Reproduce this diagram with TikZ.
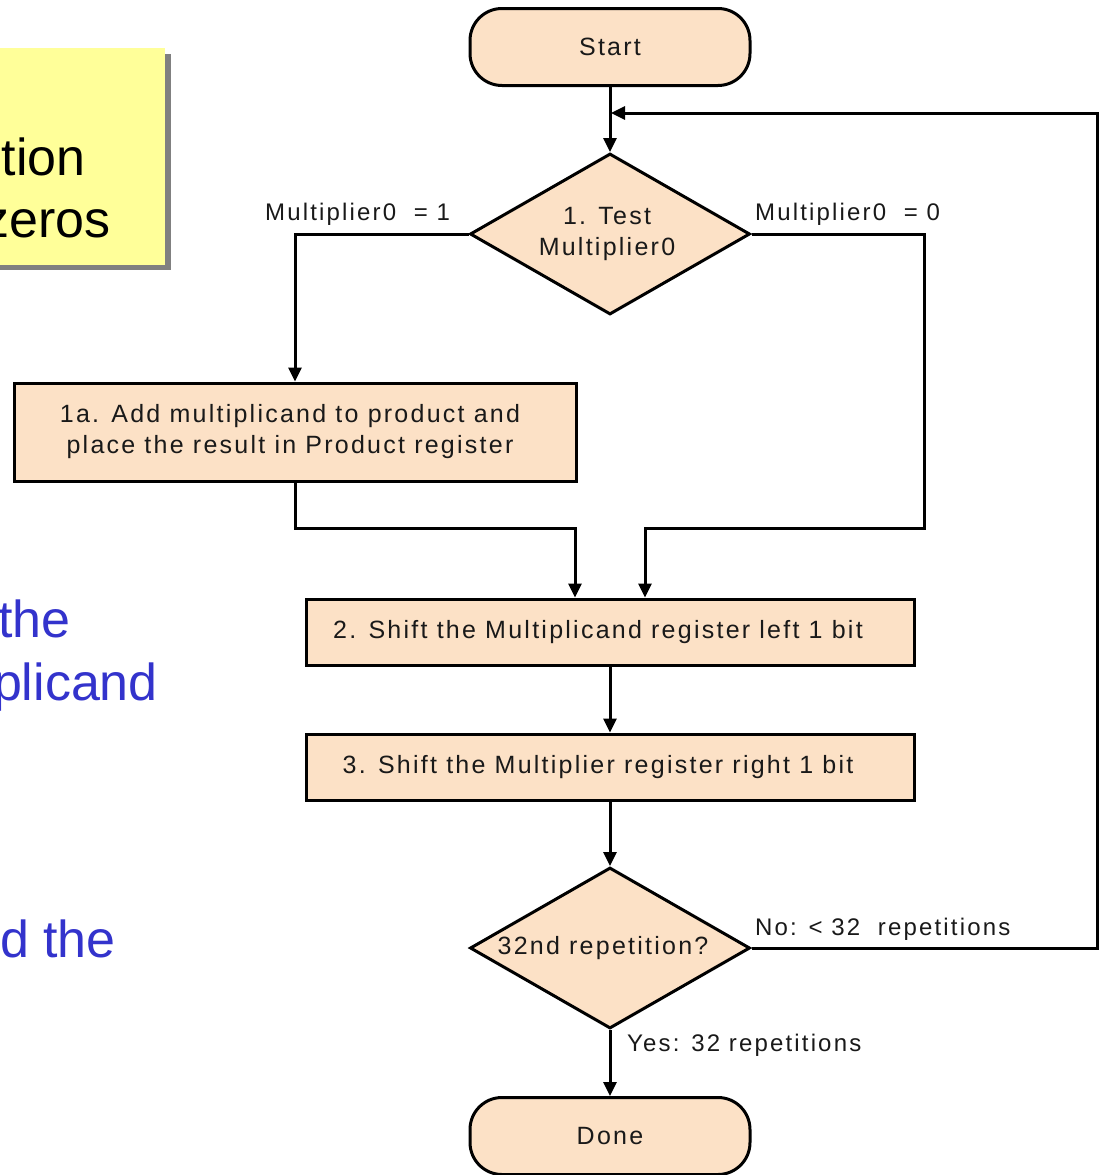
\documentclass[tikz,border=0pt]{standalone}
\usepackage{fontspec}
\setmainfont{Liberation Sans}
\newfontfamily\flowfont[LetterSpace=9]{Liberation Sans}
\newfontfamily\labelfont[LetterSpace=9]{Liberation Sans}
\usetikzlibrary{shapes.geometric,arrows.meta,calc}
\definecolor{peach}{RGB}{252,225,198}
\definecolor{notey}{RGB}{255,255,153}
\definecolor{shadowg}{RGB}{128,128,128}
\definecolor{slideblue}{RGB}{51,51,204}
\newcommand{\centrebox}[2][0pt]{\makebox[0pt]{\hspace*{#1}\begin{tabular}{@{}c@{}}#2\end{tabular}}}

\begin{document}
\begin{tikzpicture}[x=1pt,y=-1pt,
  line/.style={line width=3pt, draw=black},
  arrow/.style={line, -{Triangle[length=14pt,width=13pt]}},
  flowtext/.style={font=\flowfont\fontsize{25}{31}\selectfont, align=center, text=black!90},
  terminal/.style={flowtext, draw, line width=3pt, fill=peach, rectangle, rounded corners=32pt, minimum width=280pt, minimum height=77pt, inner sep=0},
  decision/.style={flowtext, draw, line width=3pt, fill=peach, diamond, minimum width=280pt, minimum height=161pt, inner sep=0},
  process/.style={flowtext, draw, line width=3pt, fill=peach, rectangle, inner sep=0},
  edgelabel/.style={font=\labelfont\fontsize{24}{28}\selectfont, anchor=base west, inner sep=0, text=black!90},
  slidetext/.style={font=\fontsize{52}{62}\selectfont, anchor=base east, inner sep=0}
]
\useasboundingbox (0,0) rectangle (1099,1175);

% note box with drop shadow
\fill[shadowg] (-10,54) rectangle (171,270);
\fill[notey] (-10,48) rectangle (165,265);
\node[slidetext] (n1) at (86,175) {tion};
\node[slidetext] (n2) at (111,237) {zeros};

% slide body text
\node[slidetext, text=slideblue] (b1) at (71,637) {the};
\node[slidetext, text=slideblue] (b2) at (158,700) {plicand};
\node[slidetext, text=slideblue] (b3) at (116,957) {d the};

% flowchart nodes
\node[terminal] (start) at (610,47) {Start};
\node[decision] (test) at (610,234) {\centrebox[-6pt]{1. Test\\Multiplier0}};
\node[process, minimum width=562pt, minimum height=98pt] (add) at (295,432)
  {\centrebox[-10pt]{1a. Add multiplicand to product and\\place the result in Product register}};
\node[process, minimum width=608pt, minimum height=66pt] (shiftmc) at (610,632)
  {\centrebox[-24pt]{2. Shift the Multiplicand register left 1 bit}};
\node[process, minimum width=608pt, minimum height=66pt] (shiftmp) at (610,767)
  {\centrebox[-24pt]{3. Shift the Multiplier register right 1 bit}};
\node[decision] (rep) at (610,948) {\centrebox[-14pt]{32nd repetition?}};
\node[terminal] (done) at (610,1136) {Done};

% branch labels
\node[edgelabel] (l1) at (265,220) {Multiplier0 \ = 1};
\node[edgelabel] (l0) at (755,220) {Multiplier0 \ = 0};
\node[edgelabel] (lno) at (755,935) {No: < 32 \ repetitions};
\node[edgelabel] (lyes) at (627,1051) {Yes: 32 repetitions};

% junction points
\coordinate (rjoin) at (924,528);
\coordinate (ljoin) at (575,528);
\coordinate (in1) at ($(shiftmc.north)+(-35,0)$);
\coordinate (in2) at ($(shiftmc.north)+(35,0)$);
\coordinate (loopright) at (1097,113);
\coordinate (loopin) at (611,113);

% connectors
\draw[arrow] (start.south) -- (test.north);
\draw[arrow] (test.west) -| (add.north);
\draw[arrow] (test.east) -| (rjoin) -| (in2);
\draw[arrow] (add.south) |- (ljoin) -- (in1);
\draw[arrow] (shiftmc.south) -- (shiftmp.north);
\draw[arrow] (shiftmp.south) -- (rep.north);
\draw[arrow] (rep.south) -- (done.north);
\draw[arrow] (rep.east) -| (loopright) -- (loopin);
\end{tikzpicture}
\end{document}
